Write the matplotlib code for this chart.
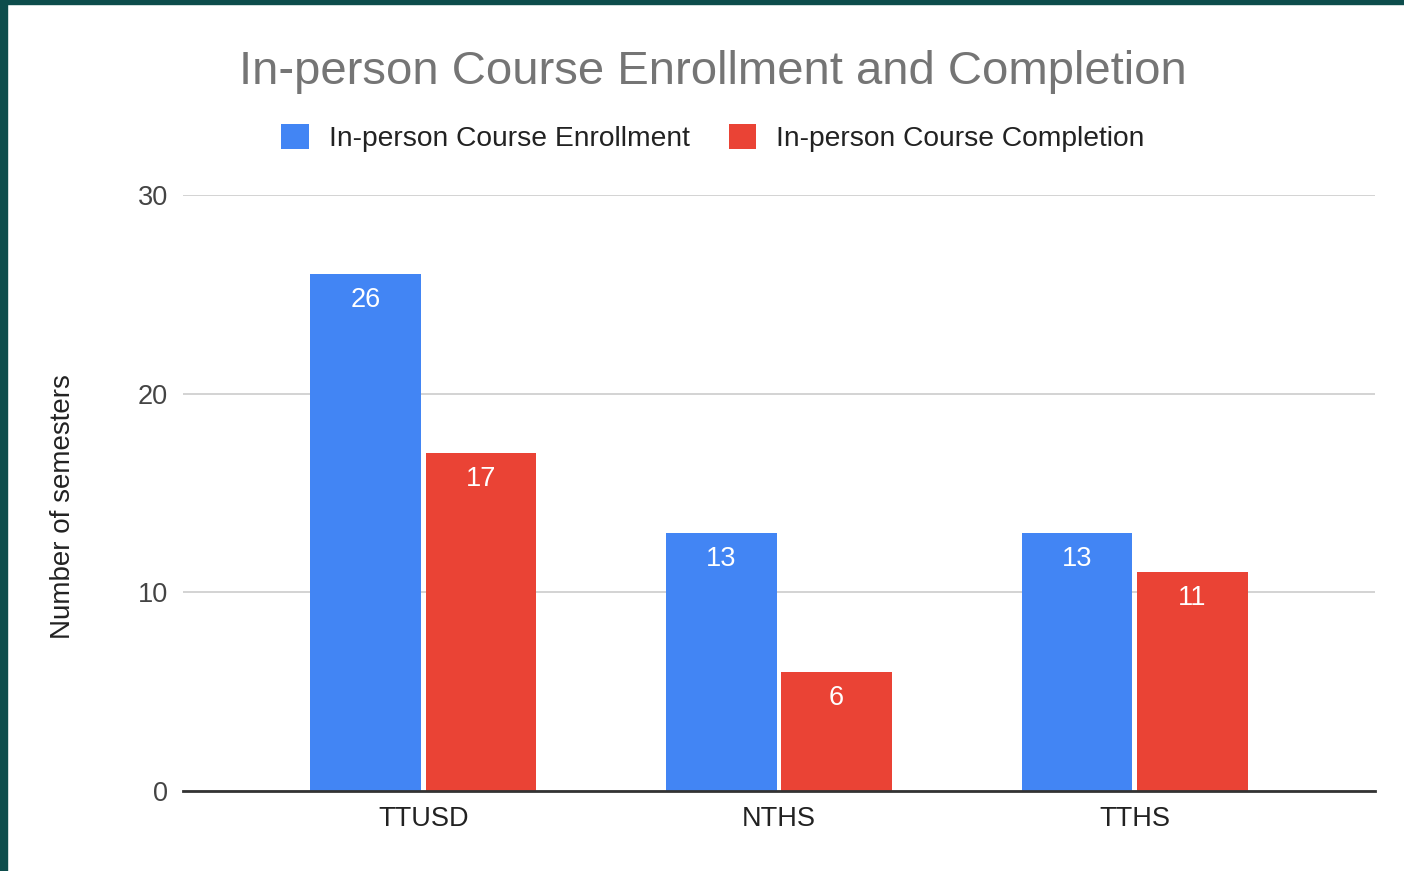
import matplotlib
matplotlib.use("Agg")
import matplotlib.pyplot as plt
from matplotlib.patches import Rectangle
import numpy as np

categories = ["TTUSD", "NTHS", "TTHS"]
enrollment = [26, 13, 13]
completion = [17, 6, 11]
series_names = ["In-person Course Enrollment", "In-person Course Completion"]
yticks = [0, 10, 20, 30]

BLUE = "#4285F4"
RED = "#EA4335"
FONT = "Liberation Sans"

fig = plt.figure(figsize=(14.04, 8.71), dpi=100)
fig.patch.set_facecolor("white")
# dark teal frame on left and top
fig.add_artist(Rectangle((0, 0), 7 / 1404, 1, transform=fig.transFigure, color="#0d4d4c", zorder=10))
fig.add_artist(Rectangle((0, 1 - 4 / 871), 1, 4 / 871, transform=fig.transFigure, color="#0d4d4c", zorder=10))

ax = fig.add_axes([183 / 1404, 1 - 791 / 871, (1375 - 183) / 1404, (791 - 195) / 871])
x = np.arange(len(categories))
w = 0.31
off = 0.162
b1 = ax.bar(x - off, enrollment, width=w, color=BLUE, zorder=3)
b2 = ax.bar(x + off, completion, width=w, color=RED, zorder=3)

for bars in (b1, b2):
    for r in bars:
        h = r.get_height()
        ax.annotate(f"{int(h)}", (r.get_x() + r.get_width() / 2, h), xytext=(0, -26),
                    textcoords="offset pixels",
                    ha="center", va="center", color="white", fontsize=19.5,
                    fontfamily=FONT, zorder=4)

ax.set_xlim(-0.675, 2.675)
ax.set_ylim(0, 30)
ax.set_yticks(yticks)
ax.set_yticklabels([str(t) for t in yticks], fontsize=19.5, color="#444444", fontfamily=FONT)
ax.set_xticks(x)
ax.set_xticklabels(categories, fontsize=19.5, color="#222222", fontfamily=FONT)
ax.tick_params(axis="both", length=0)
ax.tick_params(axis="y", pad=11)
ax.tick_params(axis="x", pad=11)
ax.grid(axis="y", color="#cccccc", linewidth=1.2, zorder=0)
for s in ["top", "right", "left"]:
    ax.spines[s].set_visible(False)
ax.spines["bottom"].set_color("#333333")
ax.spines["bottom"].set_linewidth(2)
ax.spines["bottom"].set_zorder(5)

ax.set_ylabel("Number of semesters", fontsize=20, color="#222222", fontfamily=FONT)
ax.yaxis.set_label_coords(-(183 - 63) / 1192, 1 - (507 - 195) / 596)
ax.yaxis.label.set_va("center")

fig.text(713 / 1404, 1 - 72 / 871, "In-person Course Enrollment and Completion",
         ha="center", va="center", fontsize=34, color="#757575", fontfamily=FONT)

leg = ax.legend([b1, b2], series_names, loc="center", bbox_to_anchor=(713 / 1404, 1 - 138 / 871),
                bbox_transform=fig.transFigure, ncol=2, frameon=False,
                prop={"family": FONT, "size": 20.3}, handlelength=0.97, handleheight=0.97,
                handletextpad=0.72, columnspacing=1.37)
for t in leg.get_texts():
    t.set_color("#222222")

fig.savefig("out.png", dpi=100, facecolor="white")
